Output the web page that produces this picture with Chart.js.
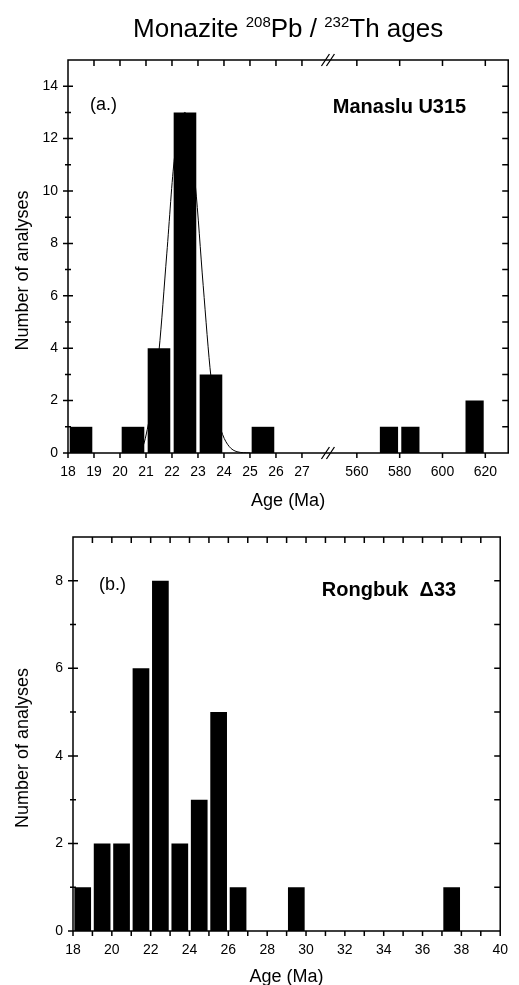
<!DOCTYPE html>
<html>
<head>
<meta charset="utf-8">
<script src="https://cdn.jsdelivr.net/npm/chart.js@4.4.0/dist/chart.umd.min.js"></script>
<style>
  html, body { margin: 0; padding: 0; background: #fff; }
  canvas { position: absolute; left: 0; }
  #chartA { top: 0; }
  #chartB { top: 510px; }
</style>
</head>
<body>
<canvas id="chartA" width="519" height="510"></canvas>
<canvas id="chartB" width="519" height="475"></canvas>
<script>
// (a.) Manaslu U315 - young grains, 1 Ma bins (bin start, count)
const binsA = [18, 20, 21, 22, 23, 25];
const countsA = [1, 1, 4, 13, 3, 1];
// (a.) inherited grains, 10 Ma bins
const binsAOld = [570, 580, 610];
const countsAOld = [1, 1, 2];
// probability curve over the young peak
const curveAges = [20.7, 20.9, 21.05, 21.25, 21.5, 21.8, 22.1, 22.5, 22.9, 23.2, 23.5, 23.75, 23.95, 24.2, 24.5, 25.0];
const curveVals = [0, 0.3, 0.9, 2.0, 3.9, 7.6, 11.3, 13.0, 10.2, 6.4, 2.9, 1.4, 0.7, 0.25, 0.05, 0];

// (b.) Rongbuk D33 - 1 Ma bins
const binsB = [18, 19, 20, 21, 22, 23, 24, 25, 26, 29, 37];
const countsB = [1, 2, 2, 6, 8, 2, 3, 5, 1, 1, 1];

// tick values
const xTicksA = [18, 19, 20, 21, 22, 23, 24, 25, 26, 27];
const xTicksAOld = [560, 580, 600, 620];
const yTicksA = [0, 1, 2, 3, 4, 5, 6, 7, 8, 9, 10, 11, 12, 13, 14];
const xTicksB = [18, 19, 20, 21, 22, 23, 24, 25, 26, 27, 28, 29, 30, 31, 32, 33, 34, 35, 36, 37, 38, 39, 40];
const yTicksB = [0, 1, 2, 3, 4, 5, 6, 7, 8];

const FONT = "'Liberation Sans', Arial, Helvetica, sans-serif";
Chart.defaults.font.family = FONT;
Chart.defaults.color = '#000';

const setTicks = arr => scale => { scale.ticks = arr.map(v => ({ value: v })); };

// frame, inner ticks, break marks and text labels
const framePlugin = {
  id: 'frame',
  afterDraw(chart, args, opts) {
    const { ctx, chartArea: a, scales } = chart;
    const y = scales.y;
    ctx.save();
    ctx.strokeStyle = '#000';
    ctx.lineWidth = 1.5;
    ctx.beginPath();
    ctx.rect(a.left, a.top, a.right - a.left, a.bottom - a.top);

    y.ticks.forEach(t => {
      const py = y.getPixelForValue(t.value);
      const len = t.value % 2 === 0 ? 5 : 3;
      ctx.moveTo(a.left - len, py); ctx.lineTo(a.left + len, py);
      if (t.value > 0) { ctx.moveTo(a.right, py); ctx.lineTo(a.right - 6, py); }
    });
    opts.xIds.forEach(id => {
      const s = scales[id];
      s.ticks.forEach(t => {
        const px = s.getPixelForValue(t.value);
        ctx.moveTo(px, a.bottom); ctx.lineTo(px, a.bottom + 5);
        ctx.moveTo(px, a.top); ctx.lineTo(px, a.top + 6);
      });
    });
    ctx.stroke();

    if (opts.breakAt) {
      const bx = scales[opts.breakAt].right;
      ctx.lineWidth = 1.3;
      ctx.beginPath();
      [a.top, a.bottom].forEach(by => {
        [-2.5, 2.5].forEach(d => {
          ctx.moveTo(bx + d - 4, by + 6);
          ctx.lineTo(bx + d + 4, by - 6);
        });
      });
      ctx.stroke();
    }

    ctx.fillStyle = '#000';
    ctx.textBaseline = 'middle';
    // axis titles
    ctx.font = '18px ' + FONT;
    ctx.textAlign = 'center';
    ctx.fillText('Age (Ma)', (a.left + a.right) / 2, a.bottom + opts.xTitleOffset);
    ctx.save();
    ctx.translate(23, (a.top + a.bottom) / 2 + 14);
    ctx.rotate(-Math.PI / 2);
    ctx.fillText('Number of analyses', 0, 0);
    ctx.restore();

    (opts.labels || []).forEach(l => {
      ctx.font = (l.bold ? 'bold ' : '') + l.size + 'px ' + FONT;
      ctx.textAlign = l.align;
      ctx.fillText(l.text, l.align === 'left' ? a.left + l.dx : a.right - l.dx, a.top + l.dy);
    });

    if (opts.title) {
      const parts = opts.title;
      ctx.textBaseline = 'alphabetic';
      ctx.textAlign = 'left';
      let w = 0;
      parts.forEach(p => {
        ctx.font = (p.sup ? 15 : 26) + 'px ' + FONT;
        p.w = ctx.measureText(p.t).width;
        w += p.w;
      });
      let x = (a.left + a.right) / 2 - w / 2;
      parts.forEach(p => {
        ctx.font = (p.sup ? 15 : 26) + 'px ' + FONT;
        ctx.fillText(p.t, x, p.sup ? 27 : 37);
        x += p.w;
      });
    }
    ctx.restore();
  }
};

const xCommon = {
  type: 'linear', position: 'bottom', offset: false,
  grid: { display: false, drawTicks: false, offset: false },
  border: { display: false },
  ticks: { padding: 11, autoSkip: false, maxRotation: 0, font: { size: 14 } }
};
const barStyle = { backgroundColor: '#000', borderWidth: 0, grouped: false, categoryPercentage: 1 };

new Chart(document.getElementById('chartA'), {
  type: 'bar',
  data: {
    datasets: [
      {
        type: 'line', xAxisID: 'x1',
        data: curveAges.map((x, i) => ({ x: x, y: curveVals[i] })),
        borderColor: '#000', borderWidth: 1, pointRadius: 0,
        cubicInterpolationMode: 'monotone'
      },
      Object.assign({
        xAxisID: 'x1',
        data: binsA.map((b, i) => ({ x: b + 0.5, y: countsA[i] })),
        barPercentage: 0.87
      }, barStyle),
      Object.assign({
        xAxisID: 'x2',
        data: binsAOld.map((b, i) => ({ x: b + 5, y: countsAOld[i] })),
        barPercentage: 0.85
      }, barStyle)
    ]
  },
  options: {
    responsive: false,
    animation: false,
    layout: { padding: { top: 60, right: 9, left: 0, bottom: 0 } },
    plugins: {
      legend: { display: false },
      tooltip: { enabled: false },
      frame: {
        xIds: ['x1', 'x2'],
        breakAt: 'x1',
        xTitleOffset: 48,
        labels: [
          { text: '(a.)', size: 18, align: 'left', dx: 22, dy: 45 },
          { text: 'Manaslu U315', size: 20, bold: true, align: 'right', dx: 42, dy: 47 }
        ],
        title: [
          { t: 'Monazite ' }, { t: '208', sup: true }, { t: 'Pb / ' },
          { t: '232', sup: true }, { t: 'Th ages' }
        ]
      }
    },
    scales: {
      x1: Object.assign({}, xCommon, {
        stack: 'age', stackWeight: 261, min: 18, max: 28,
        afterBuildTicks: setTicks(xTicksA),
        afterFit: s => { s.height = 57; }
      }),
      x2: Object.assign({}, xCommon, {
        stack: 'age', stackWeight: 181, min: 546.5, max: 630.7,
        afterBuildTicks: setTicks(xTicksAOld),
        afterFit: s => { s.height = 57; }
      }),
      y: {
        min: 0, max: 15,
        grid: { display: false, drawTicks: false },
        border: { display: false },
        afterBuildTicks: setTicks(yTicksA),
        ticks: { padding: 10, font: { size: 14 }, callback: v => (v % 2 === 0 ? v : '') },
        afterFit: s => { s.width = 68; }
      }
    }
  },
  plugins: [framePlugin]
});

new Chart(document.getElementById('chartB'), {
  type: 'bar',
  data: {
    datasets: [
      Object.assign({
        xAxisID: 'x',
        data: binsB.map((b, i) => ({ x: b + 0.5, y: countsB[i] })),
        barPercentage: 0.86
      }, barStyle)
    ]
  },
  options: {
    responsive: false,
    animation: false,
    layout: { padding: { top: 27, right: 10, left: 0, bottom: 0 } },
    plugins: {
      legend: { display: false },
      tooltip: { enabled: false },
      frame: {
        xIds: ['x'],
        xTitleOffset: 46,
        labels: [
          { text: '(b.)', size: 18, align: 'left', dx: 26, dy: 48 },
          { text: 'Rongbuk  \u039433', size: 20, bold: true, align: 'right', dx: 44, dy: 53 }
        ]
      }
    },
    scales: {
      x: Object.assign({}, xCommon, {
        min: 18, max: 40,
        afterBuildTicks: setTicks(xTicksB),
        ticks: Object.assign({}, xCommon.ticks, { callback: v => (v % 2 === 0 ? v : '') }),
        afterFit: s => { s.height = 54; }
      }),
      y: {
        min: 0, max: 9,
        grid: { display: false, drawTicks: false },
        border: { display: false },
        afterBuildTicks: setTicks(yTicksB),
        ticks: { padding: 10, font: { size: 14 }, callback: v => (v % 2 === 0 ? v : '') },
        afterFit: s => { s.width = 73; }
      }
    }
  },
  plugins: [framePlugin]
});
</script>
</body>
</html>
